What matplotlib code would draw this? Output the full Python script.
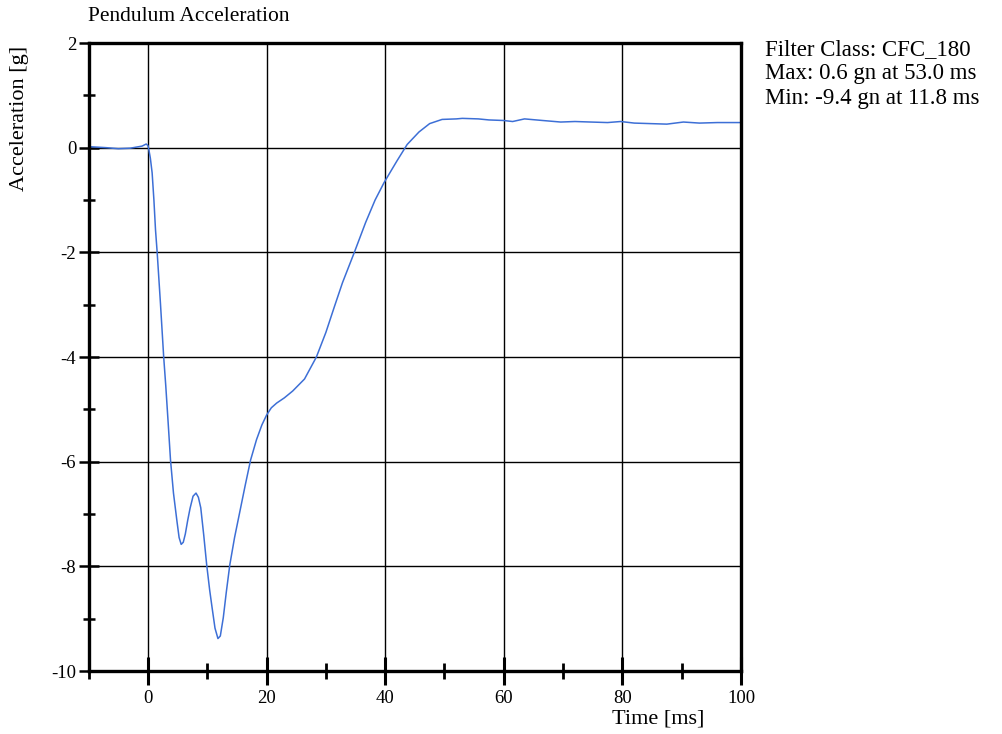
import numpy as np
import matplotlib
matplotlib.use("Agg")
import matplotlib.pyplot as plt
from matplotlib.ticker import MultipleLocator

# Pendulum acceleration trace
time_ms = [-10, -7, -5, -3, -1, -0.3, 0.0, 0.15, 0.4, 0.7, 1.0, 1.27, 1.55,
           2.1, 2.65, 3.0, 3.4, 3.8, 4.3, 4.9, 5.25, 5.6, 5.95, 6.3, 6.7,
           7.1, 7.6, 8.1, 8.5, 8.9, 9.4, 9.9, 10.4, 10.8, 11.3, 11.8, 12.2,
           12.7, 13.2, 13.8, 14.6, 15.5, 16.4, 17.3, 18.3, 19.2, 20.0, 20.8,
           21.7, 23.0, 24.4, 26.4, 28.4, 30.0, 31.4, 32.8, 34.8, 36.7, 38.3,
           39.8, 41.0, 42.0, 43.7, 45.7, 47.5, 49.6, 52.0, 53.0, 55.7, 57.5,
           59.9, 61.5, 63.5, 66.5, 69.6, 72.0, 74.7, 77.5, 79.7, 82.0, 84.7,
           87.5, 90.3, 93.0, 96.0, 100.0]
accel_g = [0.02, 0.0, -0.02, -0.01, 0.03, 0.07, 0.04, -0.04, -0.2, -0.48,
           -1.0, -1.57, -2.0, -2.97, -4.0, -4.55, -5.25, -5.97, -6.6, -7.15,
           -7.45, -7.58, -7.54, -7.38, -7.12, -6.89, -6.66, -6.6, -6.68,
           -6.88, -7.4, -7.97, -8.45, -8.78, -9.18, -9.38, -9.33, -8.98,
           -8.5, -7.97, -7.45, -6.95, -6.45, -5.97, -5.58, -5.3, -5.11,
           -4.97, -4.88, -4.78, -4.65, -4.42, -4.0, -3.53, -3.05, -2.58,
           -2.0, -1.43, -1.0, -0.67, -0.44, -0.25, 0.06, 0.3, 0.46, 0.54,
           0.55, 0.56, 0.55, 0.53, 0.52, 0.5, 0.55, 0.52, 0.49, 0.5, 0.49,
           0.48, 0.5, 0.47, 0.46, 0.45, 0.49, 0.47, 0.48, 0.48]

info_lines = ["Filter Class: CFC_180",
              "Max: 0.6 gn at 53.0 ms",
              "Min: -9.4 gn at 11.8 ms"]

plt.rcParams["font.family"] = ["Liberation Serif", "DejaVu Serif"]
plt.rcParams["axes.unicode_minus"] = False

fig = plt.figure(figsize=(10.02, 7.34), dpi=100)
ax = fig.add_axes([0.0885, 0.0858, 0.651, 0.8556])

ax.plot(time_ms, accel_g, color="#3d6fd6", lw=1.1,
        solid_joinstyle="round", antialiased=True)

ax.set_xlim(-10, 100)
ax.set_ylim(-10, 2)
ax.xaxis.set_major_locator(MultipleLocator(20))
ax.xaxis.set_minor_locator(MultipleLocator(10))
ax.yaxis.set_major_locator(MultipleLocator(2))
ax.yaxis.set_minor_locator(MultipleLocator(1))
ax.set_xticks([0, 20, 40, 60, 80, 100])

ax.grid(True, which="major", color="black", lw=1.0)
for s in ax.spines.values():
    s.set_linewidth(2.4)

ax.tick_params(axis="x", which="major", direction="inout", length=20, width=2.2,
               labelsize=13.5, pad=4)
ax.tick_params(axis="x", which="minor", direction="inout", length=11, width=2)
ax.tick_params(axis="y", which="major", direction="inout", length=14, width=1.8,
               labelsize=13.5, pad=2)
ax.tick_params(axis="y", which="minor", direction="inout", length=9, width=1.8)

fig.text(0.088, 0.977, "Pendulum Acceleration", fontsize=15.5, va="center")
fig.text(0.019, 0.838, "Acceleration [g]", fontsize=16, rotation=90,
         va="center", ha="center")
fig.text(0.657, 0.021, "Time [ms]", fontsize=16, ha="center", va="center")

for i, line in enumerate(info_lines):
    fig.text(0.763, 0.933 - i * 0.0335, line, fontsize=16.5, va="center")

fig.savefig("out.png", dpi=100)
